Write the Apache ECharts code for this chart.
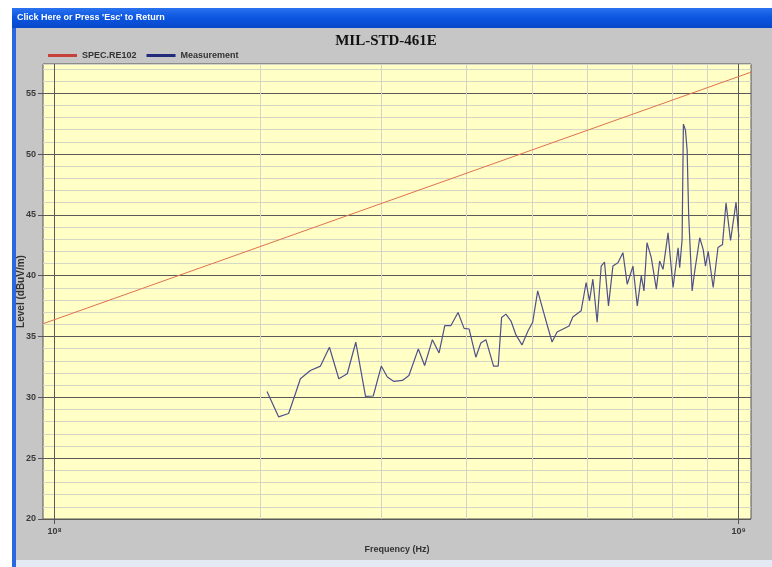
<!DOCTYPE html>
<html>
<head>
<meta charset="utf-8">
<script src="https://cdn.jsdelivr.net/npm/echarts@6/dist/echarts.min.js"></script>
<style>html,body{margin:0;padding:0;background:#fff;}#c{width:772px;height:567px;}</style>
</head>
<body>
<div id="c"></div>
<script>
// ---- data (frequency in MHz, level in dBuV/m) ----
const specFreq = [96.14, 1042.8];
const specLevel = [36.05, 56.73];
const measFreq = [204.4,212.5,219.8,224.9,228.7,236.5,244.7,252.2,260.3,267.8,275.6,284.8,292.3,300.3,306.5,313.4,322.4,329.6,340.2,347.5,356.7,364.8,371.9,379.5,388.9,396.9,403.6,412.9,419.9,427.1,438.3,445.2,450.3,456.9,464.8,472.6,482.3,492.1,500.0,508.5,517.2,526.0,533.7,542.8,553.9,565.2,572.3,588.6,598.6,605.3,612.3,621.2,629.7,636.7,645.4,655.0,666.2,677.5,687.4,700.8,711.1,720.7,727.3,734.7,745.4,758.2,766.6,775.5,788.7,802.1,815.8,820.2,826.9,830.5,836.2,841.0,845.5,855.3,862.8,877.5,887.7,894.6,902.8,918.1,933.1,947.4,958.7,973.4,991.6,1001.0];
const measLevel = [30.49,28.40,28.67,30.30,31.53,32.21,32.57,34.12,31.53,31.94,34.53,30.08,30.11,32.57,31.67,31.31,31.39,31.80,33.98,32.62,34.74,33.65,35.89,35.89,36.98,35.67,35.62,33.30,34.47,34.74,32.57,32.57,36.57,36.84,36.27,35.13,34.31,35.45,36.17,38.75,37.25,35.78,34.55,35.37,35.62,35.86,36.60,37.11,39.44,37.93,39.71,36.17,40.79,41.12,37.52,40.79,41.07,41.89,39.30,40.79,37.52,39.98,38.75,42.71,41.48,38.89,41.20,40.52,43.52,39.03,42.30,40.66,42.98,52.46,51.97,50.34,44.88,38.75,40.38,43.12,42.16,40.79,42.00,39.03,42.32,42.57,45.98,42.89,46.04,43.18];
const minorFreqs = [200,300,400,500,600,700,800,900];
const decadeFreqs = [100, 1000];
const yTicks = [20,25,30,35,40,45,50,55];
const yTickMin = 20, yTickMax = 57.4;
const titleText = 'MIL-STD-461E';
const seriesNames = ['SPEC.RE102', 'Measurement'];

const sup = {'8':'\u2078','9':'\u2079','7':'\u2077','6':'\u2076'};
const specData = specFreq.map((f, i) => [f, specLevel[i]]);
const measData = measFreq.map((f, i) => [f, measLevel[i]]);

const chart = echarts.init(document.getElementById('c'), null, {renderer: 'canvas'});
const lab = {fontFamily: 'Liberation Sans', fontWeight: 'bold', fontSize: 9, color: '#3a3a3a'};

chart.setOption({
  animation: false,
  backgroundColor: '#ffffff',
  graphic: [
    {type: 'rect', shape: {x: 16, y: 28, width: 756, height: 532}, style: {fill: '#c6c6c6'}, z: -10},
    {type: 'rect', shape: {x: 12, y: 8, width: 4, height: 559}, style: {fill: '#2a66e0'}, z: -9},
    {type: 'rect', shape: {x: 12, y: 8, width: 760, height: 20},
      style: {fill: new echarts.graphic.LinearGradient(0, 0, 0, 1, [{offset: 0, color: '#2a72f0'}, {offset: 0.5, color: '#0a55e0'}, {offset: 1, color: '#0848c8'}])}, z: -9},
    {type: 'text', x: 17, y: 18, style: {text: "Click Here or Press 'Esc' to Return", fill: '#ffffff', font: 'bold 9px "Liberation Sans"', textVerticalAlign: 'middle'}, z: -8},
    {type: 'rect', shape: {x: 16, y: 560, width: 756, height: 7}, style: {fill: '#e4eaf4'}, z: -9}
  ],
  title: {
    text: titleText, left: 'center', top: 29,
    textStyle: {fontFamily: 'Liberation Serif', fontWeight: 'bold', fontSize: 15, color: '#111'}
  },
  legend: {
    left: 43, top: 46, icon: 'rect', itemWidth: 29, itemHeight: 3, itemGap: 10, itemTextGap: 8,
    textStyle: {fontFamily: 'Liberation Sans', fontWeight: 'bold', fontSize: 9, color: '#333'},
    data: [{name: seriesNames[0], itemStyle: {color: '#c8403a'}}, {name: seriesNames[1], itemStyle: {color: '#222a7a'}}]
  },
  grid: {left: 43, right: 21, top: 64, bottom: 48, show: true, backgroundColor: '#ffffc6', borderColor: '#555', borderWidth: 1},
  xAxis: {
    type: 'log', logBase: 10, min: specFreq[0], max: specFreq[1],
    name: 'Frequency (Hz)', nameLocation: 'middle', nameGap: 26, nameMoveOverlap: false,
    nameTextStyle: {fontFamily: 'Liberation Sans', fontWeight: 'bold', fontSize: 9, color: '#333'},
    axisLine: {show: false},
    axisTick: {show: true, length: 5, lineStyle: {color: '#555'}, customValues: decadeFreqs},
    splitLine: {show: true, lineStyle: {color: '#5a5a5a', width: 1}},
    axisLabel: Object.assign({}, lab, {margin: 8, customValues: decadeFreqs, formatter: function (v) {
      const e = Math.round(Math.log10(v * 1e6));
      return '10' + (sup[String(e)] || e);
    }})
  },
  yAxis: [
    {
      type: 'value', min: yTickMin, max: yTickMax, interval: 1,
      axisLine: {show: false}, axisTick: {show: false}, axisLabel: {show: false},
      splitLine: {show: true, lineStyle: {color: '#d6d6c4', width: 1}}
    },
    {
      type: 'value', min: yTickMin, max: yTickMax, interval: 5, position: 'left',
      name: 'Level (dBuV/m)', nameLocation: 'middle', nameGap: 17, nameRotate: 90, nameMoveOverlap: false,
      nameTextStyle: {fontFamily: 'Liberation Sans', fontWeight: 'bold', fontSize: 10, color: '#333'},
      axisLine: {show: false},
      axisTick: {show: true, length: 5, lineStyle: {color: '#555'}, customValues: yTicks},
      axisLabel: Object.assign({}, lab, {margin: 7, customValues: yTicks}),
      splitLine: {show: true, lineStyle: {color: '#5a5a5a', width: 1}}
    }
  ],
  series: [
    {
      name: seriesNames[0], type: 'line', yAxisIndex: 1, data: specData, showSymbol: false, z: 3,
      lineStyle: {color: '#e2704c', width: 1}, itemStyle: {color: '#c8403a'},
      markLine: {
        silent: true, symbol: 'none', z: 1, label: {show: false}, animation: false,
        lineStyle: {color: '#d4d4c8', width: 1, type: 'solid'},
        data: minorFreqs.map(f => ({xAxis: f}))
      }
    },
    {
      name: seriesNames[1], type: 'line', yAxisIndex: 1, data: measData, showSymbol: false, z: 4,
      lineStyle: {color: '#50508a', width: 1.2}, itemStyle: {color: '#222a7a'}
    }
  ]
});
</script>
</body>
</html>
